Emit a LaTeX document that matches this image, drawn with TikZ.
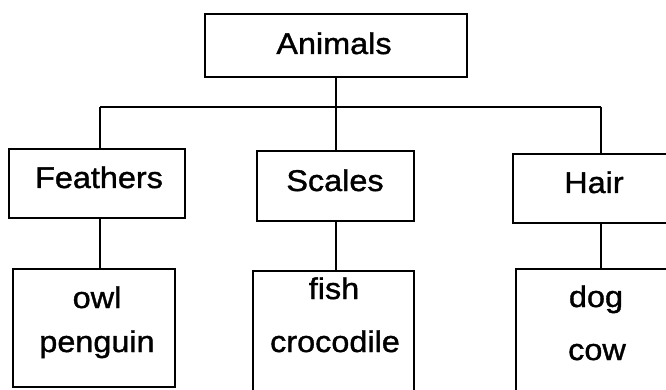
\documentclass[tikz,border=0pt]{standalone}
\usepackage{fontspec}
\setmainfont[FakeStretch=1.08,FakeBold=1.2]{Liberation Sans}
\begin{document}
\begin{tikzpicture}[x=1pt,y=-1pt,
  box/.style={draw=black,line width=1.6pt,inner sep=0pt,fill=white},
  lbl/.style={font=\fontsize{30}{34}\selectfont,inner sep=0pt,anchor=base},
  conn/.style={draw=black,line width=1.6pt}]
\useasboundingbox (0,0) rectangle (666,390);
\clip (0,0) rectangle (666,390);
\fill[white] (0,0) rectangle (666,390);
% connectors
\coordinate (busL) at (100,107);
\coordinate (busR) at (601,107);
\coordinate (busM) at (336,107);
\node[box,minimum width=262pt,minimum height=63pt] (animals) at (336,45.5) {};
\node[box,minimum width=176pt,minimum height=69pt] (feathers) at (97,183.5) {};
\node[box,minimum width=157pt,minimum height=70pt] (scales) at (335.5,186) {};
\node[box,minimum width=160pt,minimum height=69pt] (hair) at (593,188.5) {};
\node[box,minimum width=162pt,minimum height=118pt] (owlbox) at (94,328) {};
\node[box,minimum width=161pt,minimum height=121pt] (fishbox) at (333.5,331.5) {};
\node[box,minimum width=160pt,minimum height=123pt] (dogbox) at (596,330.5) {};
\draw[conn] (busL) -- (busR);
\draw[conn] (animals.south) -- (busM);
\draw[conn] (busL) -- (busL |- feathers.north);
\draw[conn] (busM) -- (busM |- scales.north);
\draw[conn] (busR) -- (busR |- hair.north);
\draw[conn] (busL |- feathers.south) -- (busL |- owlbox.north);
\draw[conn] (busM |- scales.south) -- (busM |- fishbox.north);
\draw[conn] (busR |- hair.south) -- (busR |- dogbox.north);
% labels
\node[lbl] (tanimals) at (334,54) {Animals};
\node[lbl] (tfeathers) at (99,188) {Feathers};
\node[lbl] (tscales) at (335,191) {Scales};
\node[lbl] (thair) at (594,193) {Hair};
\node[lbl] (towl) at (97,308) {owl};
\node[lbl] (tpenguin) at (97,352) {penguin};
\node[lbl] (tfish) at (334,299) {fish};
\node[lbl] (tcroc) at (335,352) {crocodile};
\node[lbl] (tdog) at (596,307) {dog};
\node[lbl] (tcow) at (597,360) {cow};
\end{tikzpicture}
\end{document}
